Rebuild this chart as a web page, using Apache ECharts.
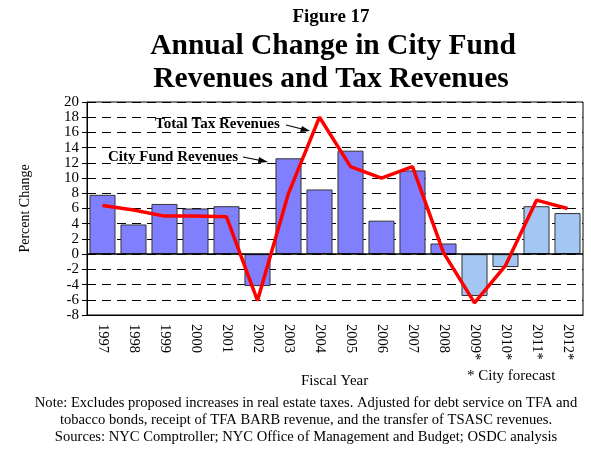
<!DOCTYPE html>
<html>
<head>
<meta charset="utf-8">
<script src="https://cdn.jsdelivr.net/npm/echarts@6/dist/echarts.min.js"></script>
<style>
  html, body { margin: 0; padding: 0; background: #fff; }
  #chart { width: 591px; height: 450px; }
</style>
</head>
<body>
<div id="chart"></div>
<script>
const years = ['1997', '1998', '1999', '2000', '2001', '2002', '2003', '2004',
  '2005', '2006', '2007', '2008', '2009*', '2010*', '2011*', '2012*']
// City Fund Revenues (bars), percent change
const cityFund = [7.8, 3.9, 6.6, 6.0, 6.3, -4.2, 12.6, 8.5, 13.6, 4.4, 11.0, 1.4, -5.5, -1.7, 6.3, 5.4]
// Total Tax Revenues (line), percent change
const totalTax = [6.4, 5.8, 5.0, 5.0, 4.9, -6.1, 8.0, 18.0, 11.5, 10.0, 11.5, 0.2, -6.4, -1.5, 7.1, 6.0]
const forecastFrom = 12 // index of first forecast year

const serif = '"Liberation Serif", "DejaVu Serif", serif'

const chart = echarts.init(document.getElementById('chart'))

const note = (text, y) => ({
  type: 'text', x: 306, y: y,
  style: { text: text, font: '14.6px ' + serif, fill: '#000', align: 'center', verticalAlign: 'top' }
})

const option = {
  backgroundColor: '#fff',
  animation: false,
  textStyle: { fontFamily: serif, color: '#000' },
  grid: { left: 87, right: 8, top: 102, bottom: 135 },
  xAxis: {
    type: 'category',
    data: years,
    position: 'bottom',
    axisLine: { onZero: false, lineStyle: { color: '#000', width: 1 } },
    axisTick: { alignWithLabel: true, length: 6, lineStyle: { color: '#000' } },
    axisLabel: { rotate: -90, fontFamily: serif, fontSize: 14.5, color: '#000', margin: 9 }
  },
  yAxis: {
    type: 'value',
    min: -8,
    max: 20,
    interval: 2,
    name: 'Percent Change',
    nameLocation: 'middle',
    nameGap: 55,
    nameTextStyle: { fontFamily: serif, fontSize: 14, color: '#000' },
    axisLine: { show: true, lineStyle: { color: '#000' } },
    axisTick: { show: true, length: 5, lineStyle: { color: '#000' } },
    axisLabel: { fontFamily: serif, fontSize: 15, color: '#000', margin: 8 },
    splitLine: { show: true, lineStyle: { color: '#000', type: [9, 6], width: 1 } }
  },
  graphic: [
    // plot frame (right and top edges)
    { type: 'rect', shape: { x: 87, y: 102, width: 496, height: 213 }, style: { fill: null, stroke: '#000', lineWidth: 1 }, z: 0 },
    // titles
    { type: 'text', x: 331, y: 8, style: { text: 'Figure 17', font: 'bold 19px ' + serif, fill: '#000', align: 'center', verticalAlign: 'top' } },
    { type: 'text', x: 333, y: 31, style: { text: 'Annual Change in City Fund', font: 'bold 29.5px ' + serif, fill: '#000', align: 'center', verticalAlign: 'top' } },
    { type: 'text', x: 331, y: 64, style: { text: 'Revenues and Tax Revenues', font: 'bold 29.5px ' + serif, fill: '#000', align: 'center', verticalAlign: 'top' } },
    // annotations
    { type: 'text', left: 155, top: 117, style: { text: 'Total Tax Revenues', font: 'bold 15px ' + serif, fill: '#000' } },
    { type: 'line', shape: { x1: 286, y1: 125, x2: 306, y2: 130 }, style: { stroke: '#000', lineWidth: 1.2 } },
    { type: 'polygon', shape: { points: [[310, 131], [302, 126], [300, 132]] }, style: { fill: '#000' } },
    { type: 'text', left: 108, top: 150, style: { text: 'City Fund Revenues', font: 'bold 15px ' + serif, fill: '#000' } },
    { type: 'line', shape: { x1: 243, y1: 157, x2: 263, y2: 161 }, style: { stroke: '#000', lineWidth: 1.2 } },
    { type: 'polygon', shape: { points: [[268, 162], [259, 157], [258, 163]] }, style: { fill: '#000' } },
    { type: 'text', left: 301, top: 374, style: { text: 'Fiscal Year', font: '15px ' + serif, fill: '#000' } },
    { type: 'text', left: 467, top: 369, style: { text: '* City forecast', font: '15px ' + serif, fill: '#000' } },
    note('Note: Excludes proposed increases in real estate taxes. Adjusted for debt service on TFA and', 396),
    note('tobacco bonds, receipt of TFA BARB revenue, and the transfer of TSASC revenues.', 413),
    note('Sources: NYC Comptroller; NYC Office of Management and Budget; OSDC analysis', 430)
  ],
  series: [
    {
      name: 'City Fund Revenues',
      type: 'bar',
      barWidth: '84%',
      data: cityFund.map((v, i) => ({
        value: v,
        itemStyle: { color: i >= forecastFrom ? '#a4c6f2' : '#8080ff' }
      })),
      itemStyle: { borderColor: '#333', borderWidth: 1 },
      markLine: {
        silent: true,
        symbol: 'none',
        label: { show: false },
        lineStyle: { color: '#000', type: 'solid', width: 1.5 },
        data: [{ yAxis: 0 }]
      },
      z: 2
    },
    {
      name: 'Total Tax Revenues',
      type: 'line',
      data: totalTax,
      symbol: 'none',
      lineStyle: { color: '#ff0000', width: 3.5 },
      z: 5
    }
  ]
}

chart.setOption(option)
</script>
</body>
</html>
